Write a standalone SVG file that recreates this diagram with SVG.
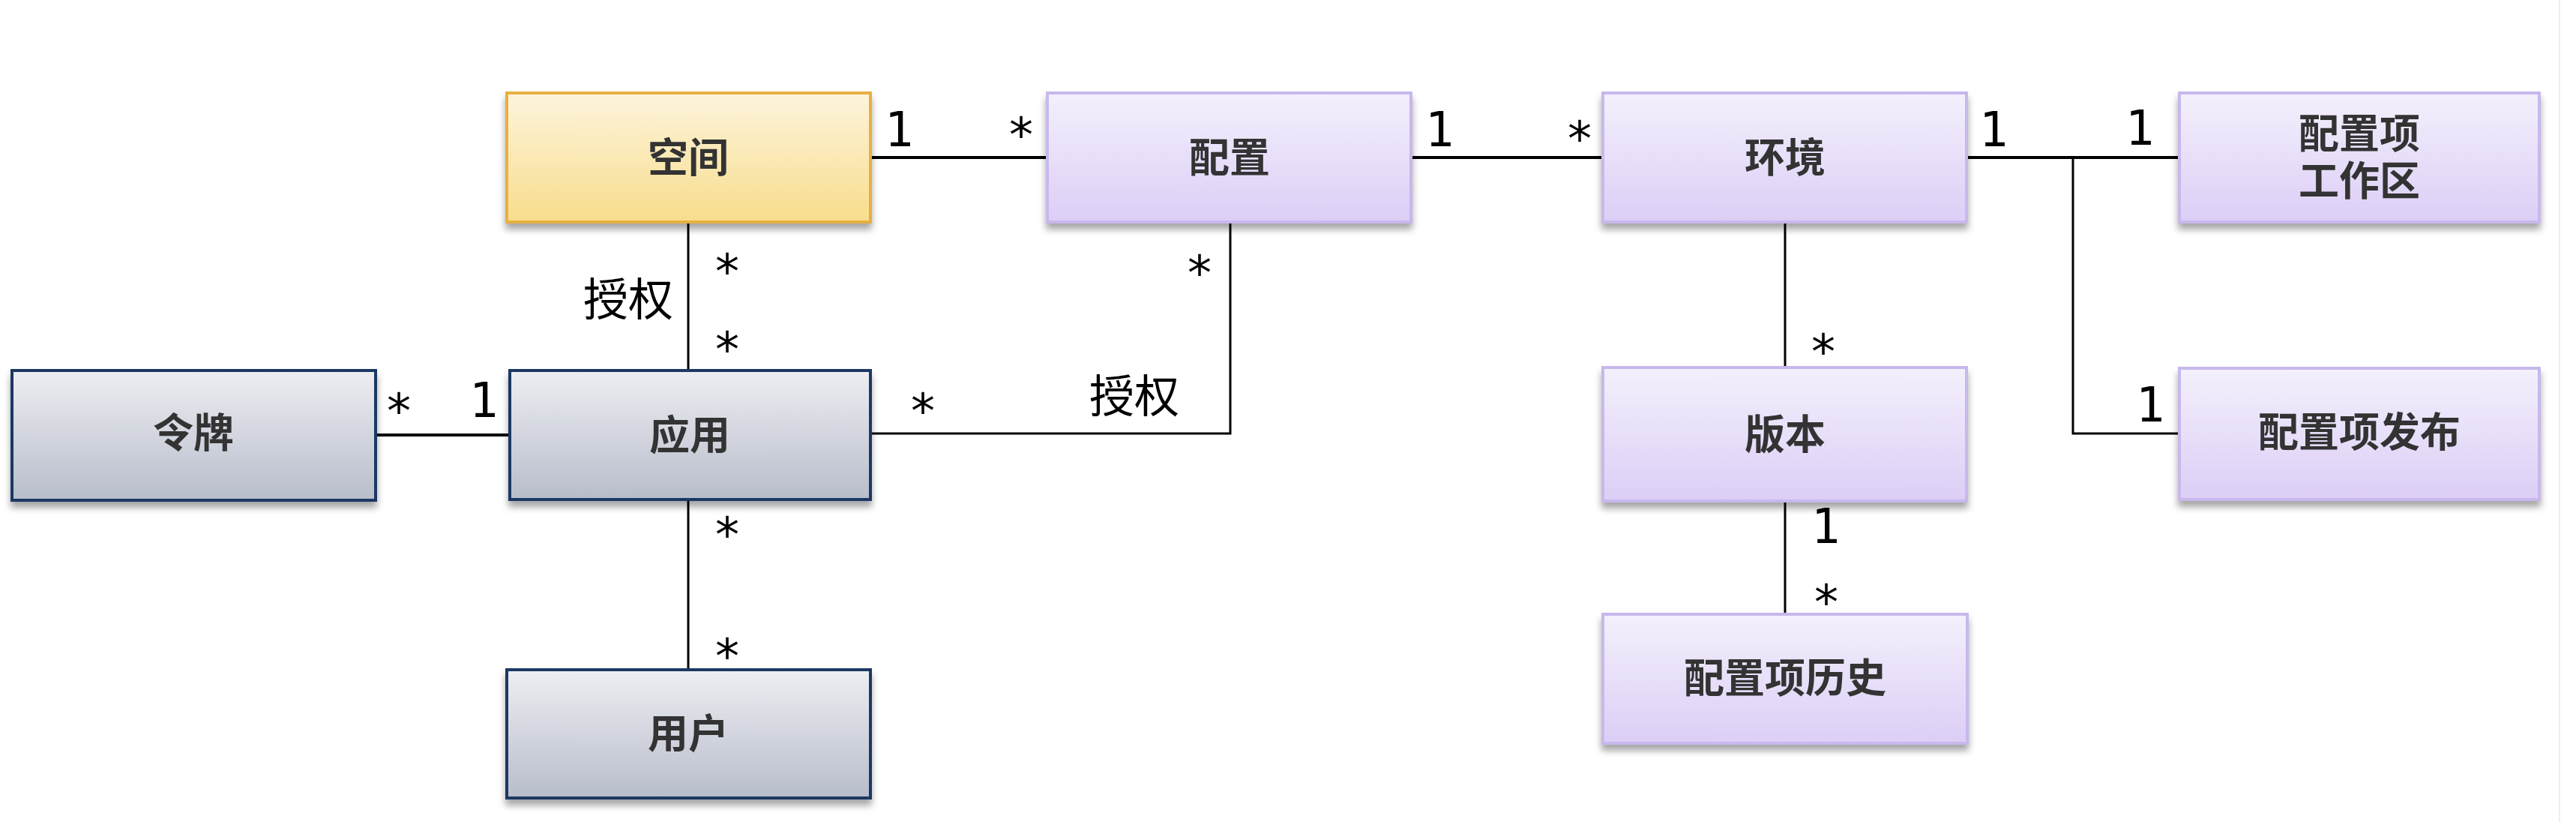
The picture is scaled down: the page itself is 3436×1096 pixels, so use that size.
<svg xmlns="http://www.w3.org/2000/svg" width="3436" height="1096" viewBox="0 0 3436 1096">
<style>
.node-text{font-family:"Noto Sans CJK SC","Noto Sans",sans-serif;font-weight:bold;font-size:54px;fill:#333333;text-anchor:middle}
.assoc{font-family:"Noto Sans CJK SC","Noto Sans",sans-serif;font-size:60px;fill:#000000;text-anchor:middle}
.mult{font-family:"DejaVu Sans Mono","Liberation Mono",monospace;font-size:64px;fill:#000000;text-anchor:middle}
.line{fill:none;stroke:#000000;stroke-linecap:butt;stroke-linejoin:miter}
.h{stroke-width:4}
.v{stroke-width:3}
.yellow{fill:url(#gYellow);stroke:#E8B040;stroke-width:4}
.purple{fill:url(#gPurple);stroke:#C8B8EC;stroke-width:4}
.gray{fill:url(#gGray);stroke:#1F3864;stroke-width:4}
</style>
<defs>
<linearGradient id="gYellow" x1="0" y1="0" x2="0" y2="1">
<stop offset="0" stop-color="#FDF4DC"/>
<stop offset="1" stop-color="#F8DD8C"/>
</linearGradient>
<linearGradient id="gPurple" x1="0" y1="0" x2="0" y2="1">
<stop offset="0" stop-color="#F4F0FC"/>
<stop offset="1" stop-color="#DCCEF6"/>
</linearGradient>
<linearGradient id="gGray" x1="0" y1="0" x2="0" y2="1">
<stop offset="0" stop-color="#EDEEF2"/>
<stop offset="1" stop-color="#B8BDCB"/>
</linearGradient>
<filter id="shadow" x="-10%" y="-10%" width="120%" height="130%">
<feDropShadow dx="0" dy="8" stdDeviation="5" flood-color="#000000" flood-opacity="0.35"/>
</filter>
</defs>
<rect x="0" y="0" width="3436" height="1096" fill="#FFFFFF"/>
<line x1="3414" y1="0" x2="3414" y2="1096" stroke="#EEEEEE" stroke-width="2"/>

<g id="connectors">
<path class="line h" d="M1161 210 H1397"/>
<path class="line h" d="M1882 210 H2138"/>
<path class="line h" d="M2623 210 H2907"/>
<path class="line v" d="M2765 210 V578 H2907"/>
<path class="line v" d="M918 296 V494"/>
<path class="line h" d="M501 580 H680"/>
<path class="line v" d="M1161 578 H1641 V296"/>
<path class="line v" d="M918 666 V893"/>
<path class="line v" d="M2381 296 V490"/>
<path class="line v" d="M2381 668 V819"/>
</g>

<g id="labels">
<text class="mult" x="1199" y="195">1</text>
<text class="mult" x="1362" y="202">*</text>
<text class="mult" x="1920" y="195">1</text>
<text class="mult" x="2107" y="207">*</text>
<text class="mult" x="2659" y="195">1</text>
<text class="mult" x="2854" y="193">1</text>
<text class="mult" x="2868" y="562">1</text>
<text class="mult" x="970" y="384">*</text>
<text class="mult" x="970" y="488">*</text>
<text class="mult" x="532" y="570">*</text>
<text class="mult" x="645" y="556">1</text>
<text class="mult" x="1231" y="570">*</text>
<text class="mult" x="1600" y="386">*</text>
<text class="mult" x="2432" y="491">*</text>
<text class="mult" x="970" y="735">*</text>
<text class="mult" x="970" y="897">*</text>
<text class="mult" x="2435" y="724">1</text>
<text class="mult" x="2436" y="825">*</text>
<text class="assoc" x="838" y="421">授权</text>
<text class="assoc" x="1513" y="550">授权</text>
</g>

<g id="node-space">
<rect class="yellow" x="676" y="124" width="485" height="172" filter="url(#shadow)"/>
<text class="node-text" x="918" y="230">空间</text>
</g>
<g id="node-config">
<rect class="purple" x="1397" y="124" width="485" height="172" filter="url(#shadow)"/>
<text class="node-text" x="1640" y="230">配置</text>
</g>
<g id="node-env">
<rect class="purple" x="2138" y="124" width="485" height="172" filter="url(#shadow)"/>
<text class="node-text" x="2381" y="230">环境</text>
</g>
<g id="node-workspace">
<rect class="purple" x="2907" y="124" width="480" height="172" filter="url(#shadow)"/>
<text class="node-text" x="3147" y="198">配置项</text>
<text class="node-text" x="3147" y="261">工作区</text>
</g>
<g id="node-token">
<rect class="gray" x="16" y="494" width="485" height="173" filter="url(#shadow)"/>
<text class="node-text" x="258" y="597">令牌</text>
</g>
<g id="node-app">
<rect class="gray" x="680" y="494" width="481" height="172" filter="url(#shadow)"/>
<text class="node-text" x="920" y="600">应用</text>
</g>
<g id="node-version">
<rect class="purple" x="2138" y="490" width="485" height="178" filter="url(#shadow)"/>
<text class="node-text" x="2381" y="599">版本</text>
</g>
<g id="node-release">
<rect class="purple" x="2907" y="491" width="480" height="175" filter="url(#shadow)"/>
<text class="node-text" x="3147" y="596">配置项发布</text>
</g>
<g id="node-user">
<rect class="gray" x="676" y="893" width="485" height="171" filter="url(#shadow)"/>
<text class="node-text" x="918" y="998">用户</text>
</g>
<g id="node-history">
<rect class="purple" x="2138" y="819" width="486" height="172" filter="url(#shadow)"/>
<text class="node-text" x="2381" y="924">配置项历史</text>
</g>
</svg>
